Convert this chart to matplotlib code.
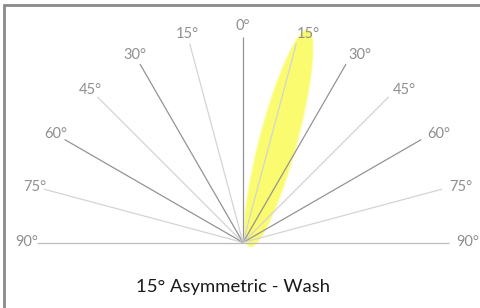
import numpy as np
import matplotlib
matplotlib.use("Agg")
import matplotlib.pyplot as plt
from matplotlib.patches import Polygon

# ---- data ----
ray_angles = [-90, -75, -60, -45, -30, -15, 0, 15, 30, 45, 60, 75, 90]
ray_labels = ["90°", "75°", "60°", "45°", "30°", "15°", "0°", "15°", "30°", "45°", "60°", "75°", "90°"]
ray_shades = ["#bdbdbd", "#d4d4d4", "#949494", "#d4d4d4", "#949494", "#d4d4d4", "#949494",
              "#d4d4d4", "#949494", "#d4d4d4", "#949494", "#d4d4d4", "#bdbdbd"]
beam_tilt = 15.0        # degrees from vertical
beam_length = 223.0     # px
beam_halfwidth = 18.0   # px
title = "15° Asymmetric - Wash"

# ---- layout ----
W, H = 481, 308
fig = plt.figure(figsize=(W / 100, H / 100), dpi=100)
ax = fig.add_axes([0, 0, 1, 1])
ax.set_xlim(0, W)
ax.set_ylim(H, 0)
ax.axis("off")

ox, oy = 243.0, 242.5
R = 206.0
RL = 216.0

# frame (left & top)
ax.plot([4.5, 4.5, W + 5], [H + 5, 4.5, 4.5], color="#8a8a8a", lw=2.0,
        solid_joinstyle="miter", clip_on=False, zorder=5)

# beam lobe (ellipse)
th = np.deg2rad(beam_tilt)
d = np.array([np.sin(th), -np.cos(th)])
n = np.array([np.cos(th), np.sin(th)])
start = np.array([250.0, 246.0])
a = beam_length / 2
center = start + d * a
t = np.linspace(0, 2 * np.pi, 200)
pts = center[None, :] + np.outer(a * np.cos(t), d) + np.outer(beam_halfwidth * np.sin(t), n)
for extra, al in [(2.0, 0.25), (1.0, 0.5)]:
    pts2 = center[None, :] + np.outer((a + extra) * np.cos(t), d) + np.outer((beam_halfwidth + extra) * np.sin(t), n)
    ax.add_patch(Polygon(pts2, closed=True, facecolor="#fbfb70", edgecolor="none", alpha=al, zorder=1))
ax.add_patch(Polygon(pts, closed=True, facecolor="#fbfb70", edgecolor="none", zorder=1))

# rays and labels
for ang, lab, col in zip(ray_angles, ray_labels, ray_shades):
    r = np.deg2rad(ang)
    ex, ey = ox + R * np.sin(r), oy - R * np.cos(r)
    ax.plot([ox, ex], [oy, ey], color=col, lw=0.9, zorder=2, solid_capstyle="butt")
    lx, ly = ox + RL * np.sin(r), oy - RL * np.cos(r)
    dx = 6.5 if ang > 0 else 0
    ax.annotate(lab, (lx, ly), xytext=(dx, 0), textcoords="offset points",
                ha="center", va="center", fontsize=10.5, color="#8f8f8f",
                family=["Lato", "DejaVu Sans"], zorder=3)

ax.text(233.5, 292, title, ha="center", va="baseline", fontsize=13.3, color="#1a1a1a",
        family=["Lato", "DejaVu Sans"])

fig.savefig("out.png", dpi=100, facecolor="white")
